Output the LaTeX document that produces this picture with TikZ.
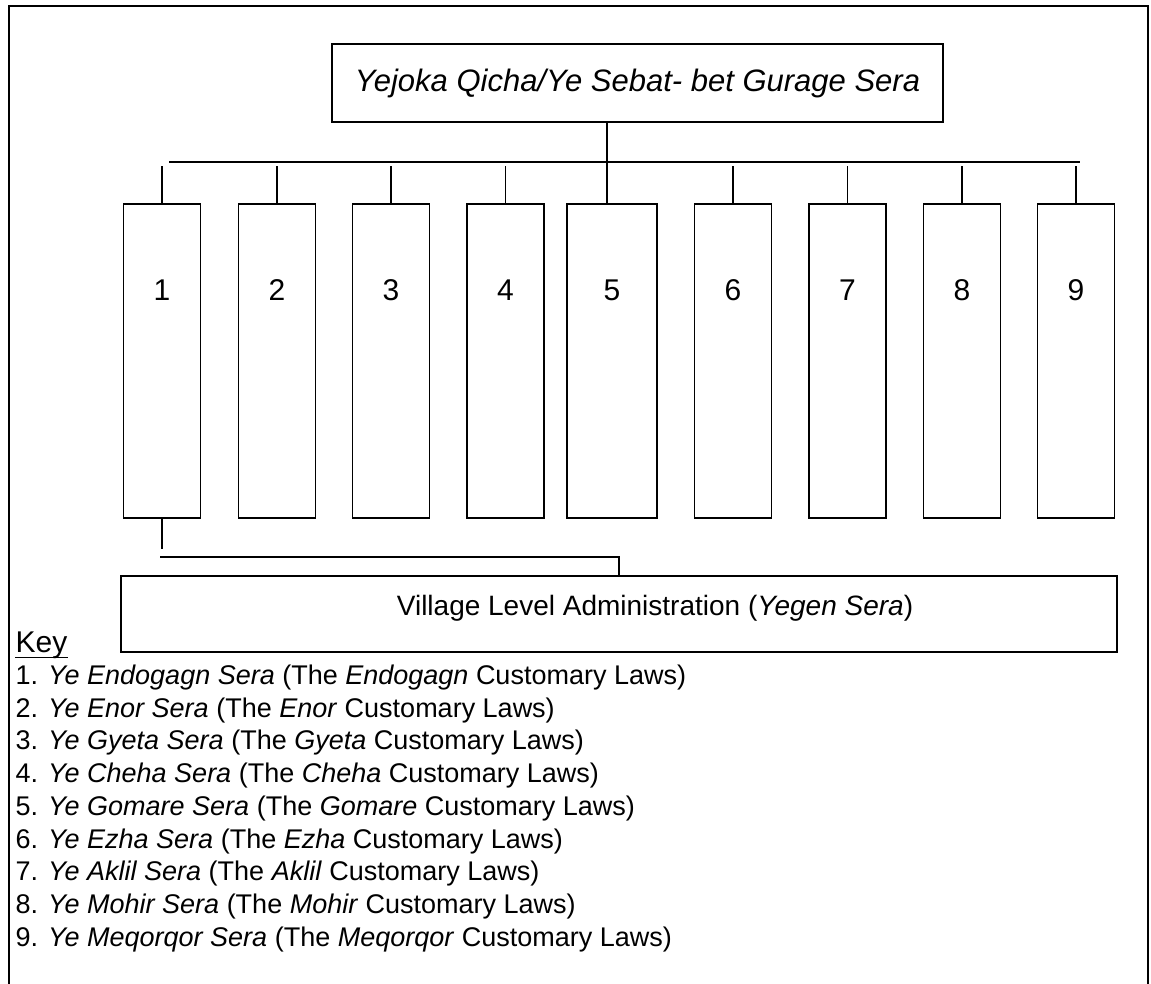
\documentclass[tikz,border=0pt]{standalone}
\usepackage{fontspec}
\setmainfont{Liberation Sans}
\usetikzlibrary{positioning}

\begin{document}
\begin{tikzpicture}[
    x=1pt, y=-1pt,
    line width=1.3pt,
    headbox/.style={
        draw,
        minimum width=611pt,
        minimum height=78pt,
        font=\fontsize{31}{36}\selectfont\itshape
    },
    clanbox/.style={
        draw,
        inner sep=0pt,
        minimum width=77pt,
        minimum height=314pt,
        text height=21.5pt,
        text depth=141.5pt,
        font=\fontsize{30}{34}\selectfont
    },
    villagebox/.style={
        draw,
        inner sep=0pt,
        minimum width=996pt,
        minimum height=76pt,
        text height=21pt,
        text depth=18pt,
        font=\fontsize{28}{32}\selectfont
    },
    keyline/.style={
        anchor=base west,
        inner sep=0pt,
        font=\fontsize{27}{31}\selectfont
    }
]
\useasboundingbox (0,0) rectangle (1151,984);

% frame of the figure
\draw (9,6) rectangle (1148,1010);

\node[headbox] (head) at (637.5,83) {Yejoka Qicha/Ye Sebat- bet Gurage Sera};

\node[clanbox] (c1) at (162,361) {1};
\node[clanbox] (c2) at (277,361) {2};
\node[clanbox] (c3) at (391,361) {3};
\node[clanbox] (c4) at (505.5,361) {4};
\node[clanbox, minimum width=90pt] (c5) at (612,361) {5};
\node[clanbox] (c6) at (733,361) {6};
\node[clanbox] (c7) at (847.5,361) {7};
\node[clanbox] (c8) at (962,361) {8};
\node[clanbox] (c9) at (1076,361) {9};

\node[villagebox] (village) at (619,614) {\hspace*{72pt}Village Level Administration (\textit{Yegen Sera})};

% bus and stubs
\coordinate (busL) at (169,162);
\coordinate (busR) at (1080,162);
\coordinate (stubtop) at (0,166);
\coordinate (stem) at (607,0);
\draw (busL) -- (busR);
\draw (head.south -| stem) -- (c5.north -| stem);
\foreach \c in {c1,c2,c3,c4,c6,c7,c8,c9}
    \draw (\c.north) -- (\c.north |- stubtop);

% link to the village level
\coordinate (hook) at (160,557);
\draw (c1.south) -- (c1.south |- 0,549);
\draw (hook) -| (village.north);

% key
\node[keyline, font=\fontsize{30}{34}\selectfont] (key) at (15,652) {Key};
\draw[line width=1pt] ([yshift=-5pt]key.base west) -- ([yshift=-5pt]key.base east);
\foreach \n/\clan in {1/Endogagn,2/Enor,3/Gyeta,4/Cheha,5/Gomare,6/Ezha,7/Aklil,8/Mohir,9/Meqorqor}
    \node[keyline] (k\n) at (15,651.5+32.75*\n) {\n. \textit{Ye \clan\ Sera} (The \textit{\clan} Customary Laws)};

\end{tikzpicture}
\end{document}
